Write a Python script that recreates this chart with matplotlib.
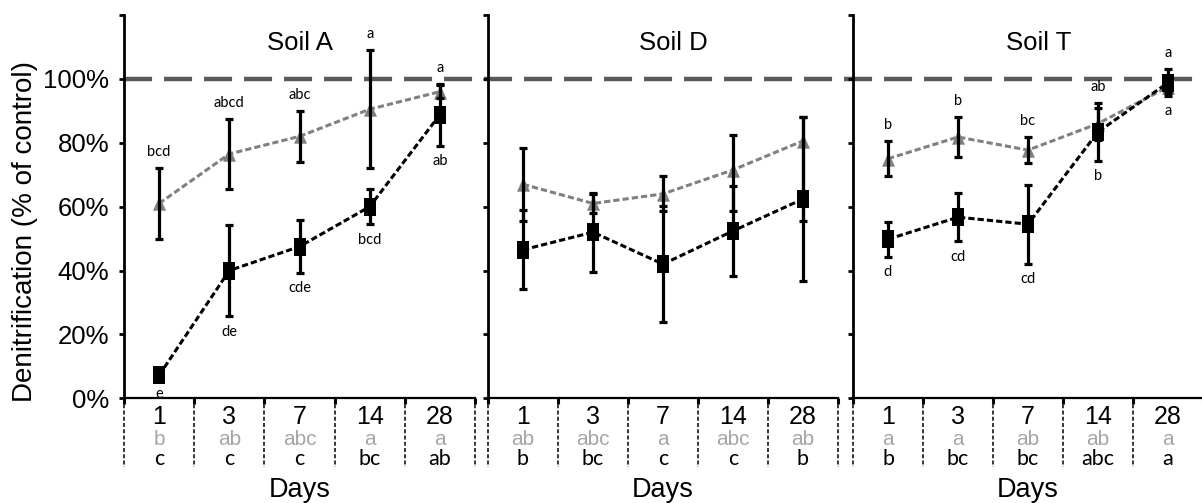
import matplotlib
matplotlib.use("Agg")
import matplotlib.pyplot as plt
from matplotlib.path import Path
from matplotlib import transforms
from matplotlib.lines import Line2D

plt.rcParams['lines.scale_dashes'] = False

# ---------------- data ----------------
days = ["1", "3", "7", "14", "28"]
soil_names = ["Soil A", "Soil D", "Soil T"]

# grey triangles (treatment 1): mean, lower error, upper error (% of control)
grey_mean_A = [61.0, 76.5, 82.0, 90.5, 96.0]
grey_lo_A = [11.0, 11.0, 8.0, 18.5, 2.0]
grey_hi_A = [11.0, 11.0, 8.0, 18.5, 2.0]

grey_mean_D = [67.0, 61.0, 64.0, 71.5, 80.6]
grey_lo_D = [11.5, 3.0, 5.5, 13.0, 25.0]
grey_hi_D = [11.5, 3.0, 5.5, 11.0, 7.5]

grey_mean_T = [75.0, 81.8, 77.7, 86.0, 97.5]
grey_lo_T = [5.5, 6.2, 4.0, 5.0, 2.0]
grey_hi_T = [5.5, 6.2, 4.0, 5.0, 2.0]

# black squares (treatment 2): mean, lower error, upper error (% of control)
black_mean_A = [7.2, 40.0, 47.5, 60.0, 88.8]
black_lo_A = [1.0, 14.3, 8.3, 5.5, 9.7]
black_hi_A = [1.0, 14.3, 8.3, 5.5, 9.7]

black_mean_D = [46.5, 52.0, 42.0, 52.4, 62.4]
black_lo_D = [12.3, 12.4, 18.2, 14.2, 25.7]
black_hi_D = [12.3, 12.4, 18.2, 14.2, 25.7]

black_mean_T = [49.8, 56.7, 54.5, 83.4, 98.8]
black_lo_T = [5.5, 7.6, 12.4, 9.0, 4.2]
black_hi_T = [5.5, 7.6, 12.4, 9.0, 4.2]

# significance letters next to the points
grey_pt_letters_A = ["bcd", "abcd", "abc", "a", "a"]
black_pt_letters_A = ["e", "de", "cde", "bcd", "ab"]
grey_pt_letters_D = ["", "", "", "", ""]
black_pt_letters_D = ["", "", "", "", ""]
grey_pt_letters_T = ["b", "b", "bc", "ab", "a"]
black_pt_letters_T = ["d", "cd", "cd", "b", "a"]

# significance letters in the table under each panel
grey_row_A = ["b", "ab", "abc", "a", "a"]
black_row_A = ["c", "c", "c", "bc", "ab"]
grey_row_D = ["ab", "abc", "a", "abc", "ab"]
black_row_D = ["b", "bc", "c", "c", "b"]
grey_row_T = ["a", "a", "ab", "ab", "a"]
black_row_T = ["b", "bc", "bc", "abc", "a"]

y_ticks = [0, 20, 40, 60, 80, 100, 120]
control_level = 100

# ---------------- style ----------------
W, H = 1202, 503
ARIAL = "Liberation Sans"
CALIBRI = "Lato"
GREY = "#808080"
LIGHT = "#a6a6a6"

def fy(py):
    return 1 - py / H

fig = plt.figure(figsize=(W / 100, H / 100), dpi=100)

panel_px = [(124, 475), (488, 838), (853, 1203)]
top_px, bottom_px = 15, 398.3
title_dx = [0.0, 0.15, 0.15]

sq = Path([(-0.35, -0.5), (0.35, -0.5), (0.35, 0.5), (-0.35, 0.5), (-0.35, -0.5)], closed=True)
tri = Path([(0, 0.5), (-0.45, -0.5), (0.45, -0.5), (0, 0.5)], closed=True)

panels = [
    (grey_mean_A, grey_lo_A, grey_hi_A, black_mean_A, black_lo_A, black_hi_A,
     grey_pt_letters_A, black_pt_letters_A, grey_row_A, black_row_A),
    (grey_mean_D, grey_lo_D, grey_hi_D, black_mean_D, black_lo_D, black_hi_D,
     grey_pt_letters_D, black_pt_letters_D, grey_row_D, black_row_D),
    (grey_mean_T, grey_lo_T, grey_hi_T, black_mean_T, black_lo_T, black_hi_T,
     grey_pt_letters_T, black_pt_letters_T, grey_row_T, black_row_T),
]

x = list(range(len(days)))
bounds = [i - 0.5 for i in range(len(days) + 1)]
axes = []

for k, (pl, name, data) in enumerate(zip(panel_px, soil_names, panels)):
    gm, glo, ghi, bm, blo, bhi, gpl, bpl, grow, brow = data
    ax = fig.add_axes([pl[0] / W, fy(bottom_px), (pl[1] - pl[0]) / W,
                       (bottom_px - top_px) / H])
    axes.append(ax)
    ax.patch.set_alpha(0)
    ax.set_xlim(-0.5, len(days) - 0.5)
    ax.set_ylim(0, 120)
    for s in ("top", "right"):
        ax.spines[s].set_visible(False)
    ax.spines["left"].set_linewidth(2.0)
    ax.spines["bottom"].set_linewidth(1.6)

    ax.set_yticks(y_ticks)
    if k == 0:
        ax.set_yticklabels([f"{v}%" if v <= 100 else "" for v in y_ticks],
                           fontsize=18.5, fontfamily=ARIAL)
    else:
        ax.set_yticklabels([])
    ax.tick_params(axis="y", direction="out", length=3.5, width=2.0, pad=7)
    ax.set_xticks(bounds)
    ax.set_xticklabels([])
    ax.tick_params(axis="x", direction="out", length=4.5, width=2.2)

    # series lines and markers
    ax.plot(x, gm, color=GREY, lw=2.2, ls=(0, (4.5, 2.2)), marker=tri,
            markersize=10.4, markerfacecolor=GREY, markeredgewidth=0, zorder=3)
    ax.plot(x, bm, color="black", lw=2.2, ls=(0, (4.5, 2.2)), marker=sq,
            markersize=12.4, markerfacecolor="black", markeredgewidth=0, zorder=4)
    ax.errorbar(x, gm, yerr=[glo, ghi], fmt="none", ecolor="black",
                elinewidth=2.3, capsize=2.6, capthick=2.3, zorder=5)
    ax.errorbar(x, bm, yerr=[blo, bhi], fmt="none", ecolor="black",
                elinewidth=2.3, capsize=2.6, capthick=2.3, zorder=5)

    # letters at the points: above the highest bar / below the lowest bar
    for i in x:
        top = max(gm[i] + ghi[i], bm[i] + bhi[i])
        low = min(gm[i] - glo[i], bm[i] - blo[i])
        if gpl[i]:
            ax.annotate(gpl[i], (i, top), xytext=(0, 8.6),
                        textcoords="offset points", ha="center", va="baseline",
                        fontsize=10.5, fontfamily=CALIBRI, color="black")
        if bpl[i]:
            ax.annotate(bpl[i], (i, low), xytext=(0, -6.0),
                        textcoords="offset points", ha="center", va="top",
                        fontsize=10.5, fontfamily=CALIBRI, color="black")

    # title
    ax.text((len(days) - 1) / 2 + title_dx[k], fy(50), name,
            transform=transforms.blended_transform_factory(ax.transData, fig.transFigure),
            ha="center", va="baseline", fontsize=18.5, fontfamily=ARIAL)

    # table under the axis
    bt = transforms.blended_transform_factory(ax.transData, fig.transFigure)
    for b in bounds:
        ax.add_line(Line2D([b, b], [fy(bottom_px), fy(467)], transform=bt,
                           color="black", lw=1.1, ls=(0, (2.9, 1.6)), clip_on=False))
    for i in x:
        ax.text(i, fy(424), days[i], transform=bt, ha="center", va="baseline",
                fontsize=18, fontfamily=ARIAL)
        ax.text(i, fy(445), grow[i], transform=bt, ha="center", va="baseline",
                fontsize=15, fontfamily=ARIAL, color=LIGHT)
        ax.text(i, fy(465), brow[i], transform=bt, ha="center", va="baseline",
                fontsize=15.5, fontfamily=CALIBRI, color="black")
    ax.text((len(days) - 1) / 2, fy(497), "Days", transform=bt, ha="center",
            va="baseline", fontsize=19.5, fontfamily=ARIAL)

# 100 % reference line across all panels
ref_tr = transforms.blended_transform_factory(fig.transFigure, axes[0].transData)
fig.add_artist(Line2D([124 / W, 1.0], [control_level, control_level], transform=ref_tr,
                      color="#595959", lw=3.2, ls=(0, (20.2, 8.6)), zorder=-1))

fig.text(25 / W, fy(232), "Denitrification (% of control)", rotation=90,
         ha="center", va="center", fontsize=20, fontfamily=ARIAL)

fig.savefig("out.png", dpi=100)
